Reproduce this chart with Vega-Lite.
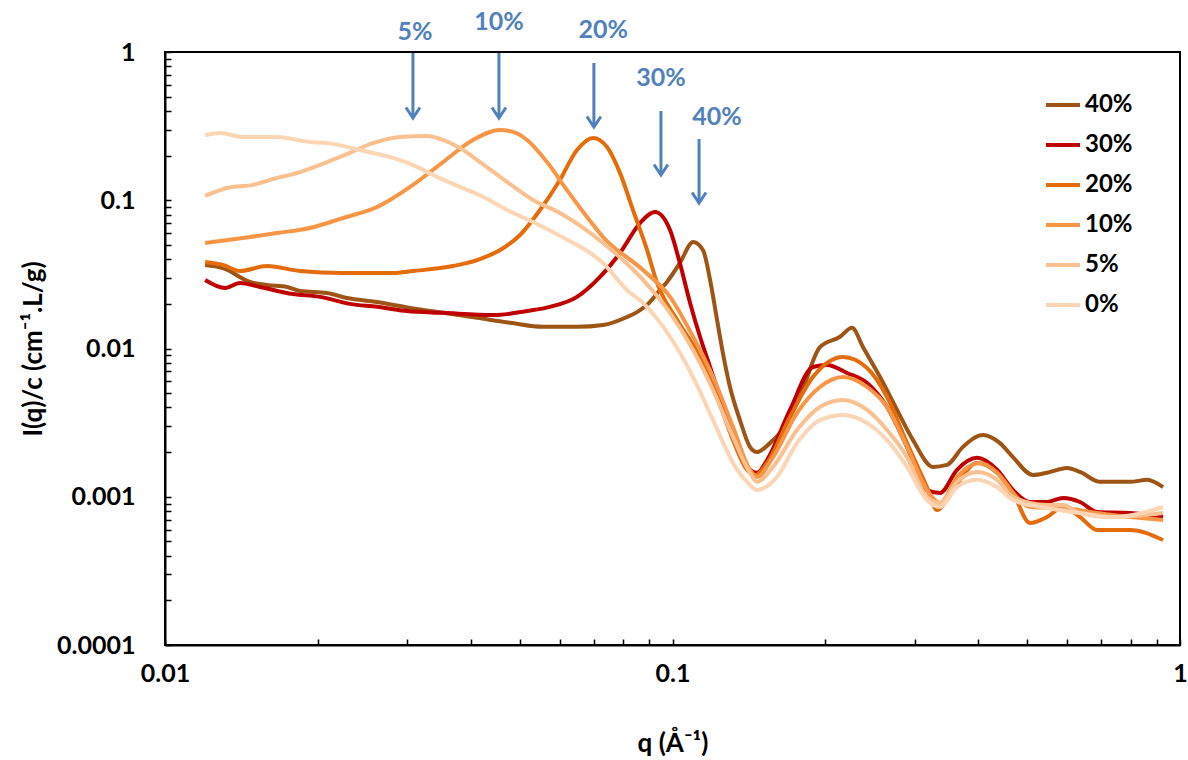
{
  "$schema": "https://vega.github.io/schema/vega-lite/v6.json",
  "width": 1015,
  "height": 593,
  "autosize": "none",
  "padding": {"left": 165, "top": 52, "right": 8, "bottom": 115},
  "background": "white",
  "config": {
    "view": {"stroke": "black", "strokeWidth": 2},
    "font": "Lato"
  },
  "datasets": {
    "curves": [
      {"c":"40%","q":0.0120,"I":0.0366},{"c":"40%","q":0.01301,"I":0.0349},{"c":"40%","q":0.0147,"I":0.0281},{"c":"40%","q":0.01589,"I":0.0268},{"c":"40%","q":0.0174,"I":0.0260},{"c":"40%","q":0.01845,"I":0.0244},{"c":"40%","q":0.02086,"I":0.0237},{"c":"40%","q":0.02283,"I":0.0219},{"c":"40%","q":0.02617,"I":0.0206},{"c":"40%","q":0.0304,"I":0.0188},{"c":"40%","q":0.0353,"I":0.0174},{"c":"40%","q":0.0412,"I":0.0161},{"c":"40%","q":0.04786,"I":0.0149},{"c":"40%","q":0.05557,"I":0.0140},{"c":"40%","q":0.06484,"I":0.0140},{"c":"40%","q":0.07296,"I":0.0144},{"c":"40%","q":0.08134,"I":0.0163},{"c":"40%","q":0.08511,"I":0.0176},{"c":"40%","q":0.08909,"I":0.0197},{"c":"40%","q":0.09448,"I":0.0248},{"c":"40%","q":0.09753,"I":0.0281},{"c":"40%","q":0.1034,"I":0.0377},{"c":"40%","q":0.1098,"I":0.0523},{"c":"40%","q":0.1148,"I":0.0462},{"c":"40%","q":0.1186,"I":0.0290},{"c":"40%","q":0.1224,"I":0.0156},{"c":"40%","q":0.1257,"I":0.00932},{"c":"40%","q":0.1298,"I":0.0055},{"c":"40%","q":0.1358,"I":0.00329},{"c":"40%","q":0.1421,"I":0.00217},{"c":"40%","q":0.1467,"I":0.0020},{"c":"40%","q":0.1556,"I":0.0023},{"c":"40%","q":0.1628,"I":0.00269},{"c":"40%","q":0.1783,"I":0.00471},{"c":"40%","q":0.1952,"I":0.0102},{"c":"40%","q":0.2138,"I":0.0120},{"c":"40%","q":0.2258,"I":0.0138},{"c":"40%","q":0.2374,"I":0.0102},{"c":"40%","q":0.2564,"I":0.00642},{"c":"40%","q":0.277,"I":0.00385},{"c":"40%","q":0.2978,"I":0.00241},{"c":"40%","q":0.326,"I":0.00159},{"c":"40%","q":0.3474,"I":0.00164},{"c":"40%","q":0.3736,"I":0.00217},{"c":"40%","q":0.4091,"I":0.00261},{"c":"40%","q":0.4419,"I":0.0023},{"c":"40%","q":0.4687,"I":0.00185},{"c":"40%","q":0.5133,"I":0.0014},{"c":"40%","q":0.547,"I":0.00145},{"c":"40%","q":0.5991,"I":0.00156},{"c":"40%","q":0.6353,"I":0.00147},{"c":"40%","q":0.6955,"I":0.00126},{"c":"40%","q":0.7971,"I":0.00126},{"c":"40%","q":0.861,"I":0.0013},{"c":"40%","q":0.9259,"I":0.00116},
      {"c":"30%","q":0.0120,"I":0.0290},{"c":"30%","q":0.01313,"I":0.0256},{"c":"30%","q":0.01405,"I":0.0277},{"c":"30%","q":0.01539,"I":0.0260},{"c":"30%","q":0.01788,"I":0.0233},{"c":"30%","q":0.02021,"I":0.0223},{"c":"30%","q":0.02315,"I":0.0200},{"c":"30%","q":0.02617,"I":0.0191},{"c":"30%","q":0.02998,"I":0.0179},{"c":"30%","q":0.0353,"I":0.0174},{"c":"30%","q":0.0443,"I":0.0168},{"c":"30%","q":0.05169,"I":0.0179},{"c":"30%","q":0.05737,"I":0.0191},{"c":"30%","q":0.06484,"I":0.0223},{"c":"30%","q":0.07197,"I":0.0304},{"c":"30%","q":0.0788,"I":0.0441},{"c":"30%","q":0.0863,"I":0.0702},{"c":"30%","q":0.09238,"I":0.0833},{"c":"30%","q":0.09888,"I":0.0630},{"c":"30%","q":0.1034,"I":0.0377},{"c":"30%","q":0.1083,"I":0.0203},{"c":"30%","q":0.1133,"I":0.0120},{"c":"30%","q":0.1186,"I":0.0075},{"c":"30%","q":0.1241,"I":0.00471},{"c":"30%","q":0.1298,"I":0.00314},{"c":"30%","q":0.1358,"I":0.00197},{"c":"30%","q":0.1421,"I":0.00152},{"c":"30%","q":0.1467,"I":0.00145},{"c":"30%","q":0.1536,"I":0.00177},{"c":"30%","q":0.1704,"I":0.00385},{"c":"30%","q":0.1891,"I":0.0075},{"c":"30%","q":0.2015,"I":0.00774},{"c":"30%","q":0.2207,"I":0.00684},{"c":"30%","q":0.2418,"I":0.00585},{"c":"30%","q":0.2647,"I":0.00403},{"c":"30%","q":0.2898,"I":0.00217},{"c":"30%","q":0.3172,"I":0.00111},{"c":"30%","q":0.3366,"I":0.00106},{"c":"30%","q":0.3636,"I":0.00152},{"c":"30%","q":0.3981,"I":0.00183},{"c":"30%","q":0.436,"I":0.00152},{"c":"30%","q":0.4687,"I":0.00111},{"c":"30%","q":0.5063,"I":0.000922},{"c":"30%","q":0.547,"I":0.000922},{"c":"30%","q":0.5884,"I":0.000981},{"c":"30%","q":0.6353,"I":0.000922},{"c":"30%","q":0.6863,"I":0.000789},{"c":"30%","q":0.7971,"I":0.000777},{"c":"30%","q":0.9259,"I":0.00073},
      {"c":"20%","q":0.0120,"I":0.0383},{"c":"20%","q":0.01301,"I":0.0366},{"c":"20%","q":0.01405,"I":0.0333},{"c":"20%","q":0.01589,"I":0.0360},{"c":"20%","q":0.01845,"I":0.0333},{"c":"20%","q":0.02242,"I":0.0323},{"c":"20%","q":0.02814,"I":0.0323},{"c":"20%","q":0.03081,"I":0.0333},{"c":"20%","q":0.03694,"I":0.0360},{"c":"20%","q":0.0412,"I":0.0395},{"c":"20%","q":0.04573,"I":0.0462},{"c":"20%","q":0.05008,"I":0.0583},{"c":"20%","q":0.05482,"I":0.0859},{"c":"20%","q":0.0600,"I":0.137},{"c":"20%","q":0.06484,"I":0.218},{"c":"20%","q":0.06972,"I":0.263},{"c":"20%","q":0.07429,"I":0.229},{"c":"20%","q":0.0788,"I":0.153},{"c":"20%","q":0.08359,"I":0.0859},{"c":"20%","q":0.08909,"I":0.0462},{"c":"20%","q":0.09323,"I":0.0277},{"c":"20%","q":0.1021,"I":0.0156},{"c":"20%","q":0.1133,"I":0.00877},{"c":"20%","q":0.1224,"I":0.00471},{"c":"20%","q":0.1316,"I":0.00241},{"c":"20%","q":0.1402,"I":0.00152},{"c":"20%","q":0.1454,"I":0.0014},{"c":"20%","q":0.1536,"I":0.00169},{"c":"20%","q":0.1704,"I":0.00345},{"c":"20%","q":0.1891,"I":0.00642},{"c":"20%","q":0.2168,"I":0.00877},{"c":"20%","q":0.2418,"I":0.00739},{"c":"20%","q":0.2647,"I":0.00471},{"c":"20%","q":0.2898,"I":0.0023},{"c":"20%","q":0.3172,"I":0.00116},{"c":"20%","q":0.332,"I":0.000814},{"c":"20%","q":0.357,"I":0.00111},{"c":"20%","q":0.3981,"I":0.00169},{"c":"20%","q":0.436,"I":0.00145},{"c":"20%","q":0.4687,"I":0.00106},{"c":"20%","q":0.5063,"I":0.000665},{"c":"20%","q":0.547,"I":0.00073},{"c":"20%","q":0.5884,"I":0.000853},{"c":"20%","q":0.6353,"I":0.00073},{"c":"20%","q":0.6863,"I":0.000597},{"c":"20%","q":0.7971,"I":0.000597},{"c":"20%","q":0.9259,"I":0.000511},
      {"c":"10%","q":0.0120,"I":0.0515},{"c":"10%","q":0.01424,"I":0.0556},{"c":"10%","q":0.01663,"I":0.0601},{"c":"10%","q":0.01931,"I":0.0650},{"c":"10%","q":0.02242,"I":0.0759},{"c":"10%","q":0.02617,"I":0.0901},{"c":"10%","q":0.03081,"I":0.127},{"c":"10%","q":0.0353,"I":0.181},{"c":"10%","q":0.04045,"I":0.255},{"c":"10%","q":0.04573,"I":0.298},{"c":"10%","q":0.04852,"I":0.289},{"c":"10%","q":0.05169,"I":0.255},{"c":"10%","q":0.05659,"I":0.181},{"c":"10%","q":0.06197,"I":0.117},{"c":"10%","q":0.06785,"I":0.0771},{"c":"10%","q":0.07296,"I":0.0565},{"c":"10%","q":0.08749,"I":0.0338},{"c":"10%","q":0.09888,"I":0.0223},{"c":"10%","q":0.1098,"I":0.0120},{"c":"10%","q":0.1202,"I":0.00642},{"c":"10%","q":0.1316,"I":0.00295},{"c":"10%","q":0.1421,"I":0.00152},{"c":"10%","q":0.1467,"I":0.00136},{"c":"10%","q":0.1578,"I":0.00185},{"c":"10%","q":0.1759,"I":0.00367},{"c":"10%","q":0.1952,"I":0.0055},{"c":"10%","q":0.2168,"I":0.00642},{"c":"10%","q":0.2418,"I":0.0055},{"c":"10%","q":0.2647,"I":0.00403},{"c":"10%","q":0.2898,"I":0.00217},{"c":"10%","q":0.3172,"I":0.00111},{"c":"10%","q":0.3366,"I":0.000908},{"c":"10%","q":0.3636,"I":0.00136},{"c":"10%","q":0.4036,"I":0.00169},{"c":"10%","q":0.436,"I":0.00145},{"c":"10%","q":0.4687,"I":0.00106},{"c":"10%","q":0.5063,"I":0.000853},{"c":"10%","q":0.5884,"I":0.00084},{"c":"10%","q":0.6863,"I":0.000777},{"c":"10%","q":0.7971,"I":0.00073},{"c":"10%","q":0.9259,"I":0.000697},
      {"c":"5%","q":0.0120,"I":0.107},{"c":"5%","q":0.01325,"I":0.121},{"c":"5%","q":0.01491,"I":0.127},{"c":"5%","q":0.01632,"I":0.139},{"c":"5%","q":0.01845,"I":0.155},{"c":"5%","q":0.02086,"I":0.181},{"c":"5%","q":0.02283,"I":0.205},{"c":"5%","q":0.0257,"I":0.243},{"c":"5%","q":0.02904,"I":0.267},{"c":"5%","q":0.03283,"I":0.271},{"c":"5%","q":0.0353,"I":0.255},{"c":"5%","q":0.03813,"I":0.225},{"c":"5%","q":0.04176,"I":0.181},{"c":"5%","q":0.04721,"I":0.133},{"c":"5%","q":0.05311,"I":0.1004},{"c":"5%","q":0.0600,"I":0.0820},{"c":"5%","q":0.07296,"I":0.0515},{"c":"5%","q":0.08749,"I":0.0290},{"c":"5%","q":0.09888,"I":0.0174},{"c":"5%","q":0.1098,"I":0.00977},{"c":"5%","q":0.1202,"I":0.00525},{"c":"5%","q":0.1316,"I":0.00253},{"c":"5%","q":0.1421,"I":0.00145},{"c":"5%","q":0.1467,"I":0.00126},{"c":"5%","q":0.1578,"I":0.00159},{"c":"5%","q":0.1759,"I":0.00282},{"c":"5%","q":0.1952,"I":0.00403},{"c":"5%","q":0.2168,"I":0.00449},{"c":"5%","q":0.2418,"I":0.00385},{"c":"5%","q":0.2647,"I":0.00282},{"c":"5%","q":0.2898,"I":0.00185},{"c":"5%","q":0.3172,"I":0.000996},{"c":"5%","q":0.3366,"I":0.000908},{"c":"5%","q":0.3636,"I":0.00126},{"c":"5%","q":0.3981,"I":0.00147},{"c":"5%","q":0.436,"I":0.0013},{"c":"5%","q":0.4687,"I":0.000996},{"c":"5%","q":0.547,"I":0.00088},{"c":"5%","q":0.5884,"I":0.00088},{"c":"5%","q":0.6353,"I":0.000777},{"c":"5%","q":0.7379,"I":0.00073},{"c":"5%","q":0.9259,"I":0.000777},
      {"c":"0%","q":0.0120,"I":0.275},{"c":"0%","q":0.01284,"I":0.284},{"c":"0%","q":0.01424,"I":0.267},{"c":"0%","q":0.01663,"I":0.267},{"c":"0%","q":0.01931,"I":0.247},{"c":"0%","q":0.02086,"I":0.243},{"c":"0%","q":0.02423,"I":0.218},{"c":"0%","q":0.02814,"I":0.193},{"c":"0%","q":0.03138,"I":0.168},{"c":"0%","q":0.03374,"I":0.148},{"c":"0%","q":0.03813,"I":0.123},{"c":"0%","q":0.04176,"I":0.108},{"c":"0%","q":0.04721,"I":0.0859},{"c":"0%","q":0.05311,"I":0.0713},{"c":"0%","q":0.0600,"I":0.0575},{"c":"0%","q":0.07296,"I":0.0377},{"c":"0%","q":0.08134,"I":0.0248},{"c":"0%","q":0.08749,"I":0.0203},{"c":"0%","q":0.09888,"I":0.0120},{"c":"0%","q":0.1098,"I":0.00642},{"c":"0%","q":0.1202,"I":0.00329},{"c":"0%","q":0.1316,"I":0.00169},{"c":"0%","q":0.1402,"I":0.00126},{"c":"0%","q":0.1467,"I":0.00111},{"c":"0%","q":0.1606,"I":0.00136},{"c":"0%","q":0.1759,"I":0.0023},{"c":"0%","q":0.1952,"I":0.00329},{"c":"0%","q":0.2168,"I":0.00356},{"c":"0%","q":0.2418,"I":0.00314},{"c":"0%","q":0.2647,"I":0.00241},{"c":"0%","q":0.2898,"I":0.00159},{"c":"0%","q":0.3172,"I":0.000951},{"c":"0%","q":0.3366,"I":0.000853},{"c":"0%","q":0.3636,"I":0.00116},{"c":"0%","q":0.3981,"I":0.0013},{"c":"0%","q":0.436,"I":0.00116},{"c":"0%","q":0.4687,"I":0.000951},{"c":"0%","q":0.547,"I":0.00084},{"c":"0%","q":0.6353,"I":0.000777},{"c":"0%","q":0.7379,"I":0.00073},{"c":"0%","q":0.9259,"I":0.000853}
    ],
    "arrows": [
      {"t":"5%","q":0.0308,"top":0.985,"tip":0.359,"lq":0.0311,"ly":1.36},
      {"t":"10%","q":0.0455,"top":0.985,"tip":0.359,"lq":0.0455,"ly":1.59},
      {"t":"20%","q":0.0700,"top":0.843,"tip":0.312,"lq":0.0730,"ly":1.41},
      {"t":"30%","q":0.0949,"top":0.400,"tip":0.148,"lq":0.0949,"ly":0.668},
      {"t":"40%","q":0.1128,"top":0.259,"tip":0.0958,"lq":0.1224,"ly":0.364}
    ]
  },
  "layer": [
    {
      "data": {"name": "curves"},
      "mark": {"type": "line", "strokeWidth": 4, "clip": true, "interpolate": "monotone"},
      "encoding": {
        "x": {
          "field": "q", "type": "quantitative",
          "scale": {"type": "log", "domain": [0.01, 1], "nice": false},
          "axis": {
            "title": "q (Å⁻¹)",
            "values": [0.01,0.02,0.03,0.04,0.05,0.06,0.07,0.08,0.09,0.1,0.2,0.3,0.4,0.5,0.6,0.7,0.8,0.9,1],
            "format": "~g",
            "labelExpr": "indexof([0.01,0.1,1], datum.value) >= 0 ? datum.label : ''",
            "grid": false,
            "tickSize": -6, "tickColor": "black", "tickWidth": 1.5,
            "domainColor": "black", "domainWidth": 2,
            "labelFont": "Lato", "labelFontWeight": "bold", "labelFontSize": 25, "labelColor": "black",
            "labelPadding": 22, "labelFlush": false, "labelOverlap": false,
            "titleFont": "Lato", "titleFontWeight": "bold", "titleFontSize": 26, "titleColor": "black",
            "titlePadding": 44
          }
        },
        "y": {
          "field": "I", "type": "quantitative",
          "scale": {"type": "log", "domain": [0.0001, 1], "nice": false},
          "axis": {
            "title": "I(q)/c (cm⁻¹.L/g)",
            "values": [0.0001,0.0002,0.0003,0.0004,0.0005,0.0006,0.0007,0.0008,0.0009,0.001,0.002,0.003,0.004,0.005,0.006,0.007,0.008,0.009,0.01,0.02,0.03,0.04,0.05,0.06,0.07,0.08,0.09,0.1,0.2,0.3,0.4,0.5,0.6,0.7,0.8,0.9,1],
            "format": "~g",
            "labelExpr": "indexof([0.0001,0.001,0.01,0.1,1], datum.value) >= 0 ? datum.label : ''",
            "grid": false,
            "tickSize": -6, "tickColor": "black", "tickWidth": 1.5,
            "domainColor": "black", "domainWidth": 2,
            "labelFont": "Lato", "labelFontWeight": "bold", "labelFontSize": 25, "labelColor": "black",
            "labelPadding": 36, "labelFlush": false, "labelOverlap": false,
            "titleFont": "Lato", "titleFontWeight": "bold", "titleFontSize": 26, "titleColor": "black",
            "titlePadding": 10
          }
        },
        "color": {
          "field": "c", "type": "nominal",
          "scale": {"domain": ["40%","30%","20%","10%","5%","0%"], "range": ["#9E5414","#C00000","#E46C0A","#F79646","#FAC090","#FCD5B5"]},
          "legend": {
            "orient": "none", "legendX": 879, "legendY": 34, "title": null, "padding": 0,
            "symbolType": "stroke", "symbolSize": 1156, "symbolStrokeWidth": 4,
            "labelFont": "Lato", "labelFontWeight": "bold", "labelFontSize": 24, "labelColor": "black",
            "labelOffset": 3, "rowPadding": 9
          }
        }
      }
    },
    {
      "data": {"name": "arrows"},
      "mark": {"type": "rule", "color": "#4F81BD", "strokeWidth": 3},
      "encoding": {
        "x": {"field": "q", "type": "quantitative"},
        "y": {"field": "top", "type": "quantitative"},
        "y2": {"field": "tip"}
      }
    },
    {
      "data": {"name": "arrows"},
      "mark": {"type": "point", "shape": "M -1 -1.5 L 0 0 L 1 -1.5", "filled": false, "stroke": "#4F81BD", "strokeWidth": 3, "size": 196, "opacity": 1},
      "encoding": {
        "x": {"field": "q", "type": "quantitative"},
        "y": {"field": "tip", "type": "quantitative"}
      }
    },
    {
      "data": {"name": "arrows"},
      "mark": {"type": "text", "color": "#4F81BD", "font": "Lato", "fontWeight": "bold", "fontSize": 25, "align": "center", "baseline": "middle"},
      "encoding": {
        "x": {"field": "lq", "type": "quantitative"},
        "y": {"field": "ly", "type": "quantitative"},
        "text": {"field": "t"}
      }
    }
  ]
}
